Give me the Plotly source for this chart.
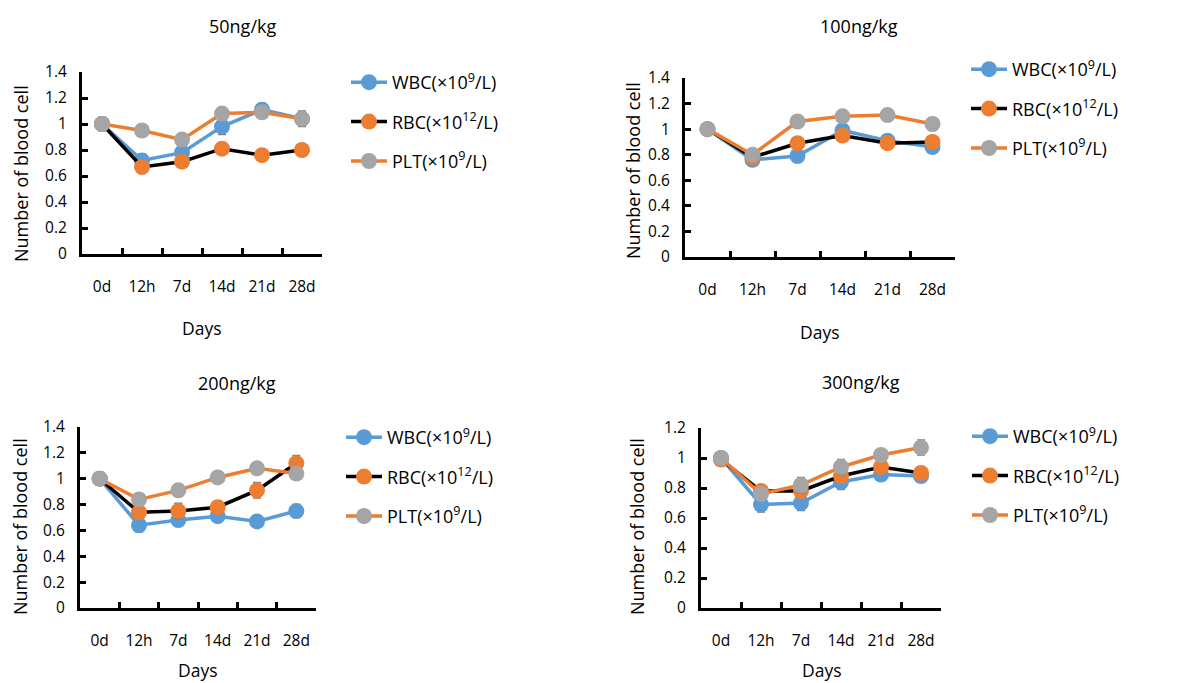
import plotly.graph_objects as go

# ---------------- data ----------------
days = ["0d", "12h", "7d", "14d", "21d", "28d"]
panel_titles = ["50ng/kg", "100ng/kg", "200ng/kg", "300ng/kg"]
series_names = ["WBC(×10<sup>9</sup>/L)", "RBC(×10<sup>12</sup>/L)", "PLT(×10<sup>9</sup>/L)"]

wbc_50 = [1.00, 0.72, 0.78, 0.98, 1.11, 1.04]
rbc_50 = [1.00, 0.67, 0.71, 0.81, 0.76, 0.80]
plt_50 = [1.00, 0.95, 0.88, 1.08, 1.09, 1.04]
wbc_50_err = [0.05, 0.05, 0.04, 0.06, 0.05, 0.05]
rbc_50_err = [0.04, 0.05, 0.03, 0.04, 0.03, 0.03]
plt_50_err = [0.05, 0.03, 0.03, 0.03, 0.04, 0.06]

wbc_100 = [1.00, 0.76, 0.79, 0.99, 0.91, 0.86]
rbc_100 = [1.00, 0.78, 0.89, 0.95, 0.89, 0.90]
plt_100 = [1.00, 0.80, 1.06, 1.10, 1.11, 1.04]
wbc_100_err = [0.03, 0.03, 0.03, 0.04, 0.03, 0.03]
rbc_100_err = [0.03, 0.03, 0.03, 0.03, 0.03, 0.03]
plt_100_err = [0.03, 0.03, 0.04, 0.04, 0.03, 0.05]

wbc_200 = [1.00, 0.64, 0.68, 0.71, 0.67, 0.75]
rbc_200 = [1.00, 0.74, 0.75, 0.78, 0.91, 1.12]
plt_200 = [1.00, 0.84, 0.91, 1.01, 1.08, 1.04]
wbc_200_err = [0.04, 0.05, 0.04, 0.04, 0.04, 0.05]
rbc_200_err = [0.04, 0.04, 0.06, 0.05, 0.06, 0.06]
plt_200_err = [0.05, 0.03, 0.03, 0.03, 0.03, 0.03]

wbc_300 = [1.00, 0.69, 0.70, 0.84, 0.89, 0.88]
rbc_300 = [0.99, 0.78, 0.78, 0.88, 0.94, 0.90]
plt_300 = [1.00, 0.76, 0.82, 0.94, 1.02, 1.07]
wbc_300_err = [0.03, 0.05, 0.05, 0.05, 0.04, 0.03]
rbc_300_err = [0.03, 0.03, 0.04, 0.04, 0.03, 0.04]
plt_300_err = [0.03, 0.03, 0.05, 0.05, 0.04, 0.05]

y_max = [1.4, 1.4, 1.4, 1.2]

panels = [
    [(wbc_50, wbc_50_err), (rbc_50, rbc_50_err), (plt_50, plt_50_err)],
    [(wbc_100, wbc_100_err), (rbc_100, rbc_100_err), (plt_100, plt_100_err)],
    [(wbc_200, wbc_200_err), (rbc_200, rbc_200_err), (plt_200, plt_200_err)],
    [(wbc_300, wbc_300_err), (rbc_300, rbc_300_err), (plt_300, plt_300_err)],
]

# ---------------- layout geometry (viewport pixels) ----------------
VW, VH = 1192, 683       # browser viewport
OFF = 8                  # default body margin of the html page
W, H = VW - OFF, VH - OFF
# plot area: x0, x1, y_bottom, y_top
areas = [(82, 322, 254, 72), (685, 955, 257, 78), (80, 316, 608, 427), (701, 941, 608, 428)]
title_pos = [(242, 26), (859, 26), (237, 383), (861, 382)]
ytitle_pos = [(21, 174), (633, 171), (20, 527), (637, 527)]
xtitle_pos = [(202, 328), (820, 332), (198, 670), (822, 670)]
legend_pos = [(346, 64), (966, 51), (341, 419), (967, 418)]

line_colors = ["#5B9BD5", "#000000", "#ED7D31"]
marker_colors = ["#5B9BD5", "#ED7D31", "#A5A5A5"]
FONT = "Open Sans"

def px(x):
    return (x - OFF) / W

def py(y):
    return (VH - y) / H

fig = go.Figure()
layout = dict(width=W, height=H, template="none",
              margin=dict(l=0, r=0, t=0, b=0, pad=0, autoexpand=False),
              paper_bgcolor="white", plot_bgcolor="white",
              font=dict(family=FONT, size=16, color="#000000"),
              annotations=[])

for p in range(4):
    ax = "" if p == 0 else str(p + 1)
    leg = "legend" if p == 0 else "legend" + str(p + 1)
    for s in range(3):
        vals, errs = panels[p][s]
        fig.add_trace(go.Scatter(
            x=days, y=vals, mode="lines+markers", name=series_names[s],
            xaxis="x" + ax, yaxis="y" + ax, legend=leg, legendgroup=f"g{p}{s}",
            line=dict(color=line_colors[s], width=3.5),
            marker=dict(color=marker_colors[s], size=16),
            error_y=dict(type="data", array=errs, visible=True, color="#7F7F7F",
                         thickness=1.5, width=4),
            hoverinfo="skip"))
    x0, x1, yb, yt = areas[p]
    layout["xaxis" + ax] = dict(
        domain=[px(x0), px(x1)], anchor="y" + ax, type="category", automargin=False,
        range=[-0.5, 5.5], tickson="boundaries", ticks="inside", ticklen=6,
        tickwidth=3, tickcolor="black", showline=True, linewidth=3, linecolor="black",
        showgrid=False, zeroline=False, ticklabelstandoff=16,
        tickfont=dict(family=FONT, size=15.5))
    layout["yaxis" + ax] = dict(
        domain=[py(yb), py(yt)], anchor="x" + ax, range=[0, y_max[p]], dtick=0.2,
        automargin=False,
        ticks="inside", ticklen=6, tickwidth=3, tickcolor="black",
        showline=True, linewidth=3, linecolor="black", showgrid=False, zeroline=False,
        ticklabelstandoff=9, tickfont=dict(family=FONT, size=15.5))
    lx, ly = legend_pos[p]
    layout[leg] = dict(x=px(lx), y=py(ly), xanchor="left", yanchor="top",
                       bgcolor="rgba(0,0,0,0)", borderwidth=0, itemwidth=36,
                       tracegroupgap=13, traceorder="grouped",
                       font=dict(family=FONT, size=18))
    tx, ty = title_pos[p]
    layout["annotations"].append(dict(text=panel_titles[p], x=px(tx), y=py(ty),
                                      xref="paper", yref="paper", showarrow=False,
                                      xanchor="center", yanchor="middle",
                                      font=dict(family=FONT, size=18)))
    yx, yy = ytitle_pos[p]
    layout["annotations"].append(dict(text="Number of blood cell", x=px(yx), y=py(yy),
                                      xref="paper", yref="paper", showarrow=False,
                                      xanchor="center", yanchor="middle",
                                      textangle=-90, font=dict(family=FONT, size=18)))
    xx, xy = xtitle_pos[p]
    layout["annotations"].append(dict(text="Days", x=px(xx), y=py(xy),
                                      xref="paper", yref="paper", showarrow=False,
                                      xanchor="center", yanchor="middle",
                                      font=dict(family=FONT, size=17.5)))

fig.update_layout(**layout)
fig.write_html("out.html")
